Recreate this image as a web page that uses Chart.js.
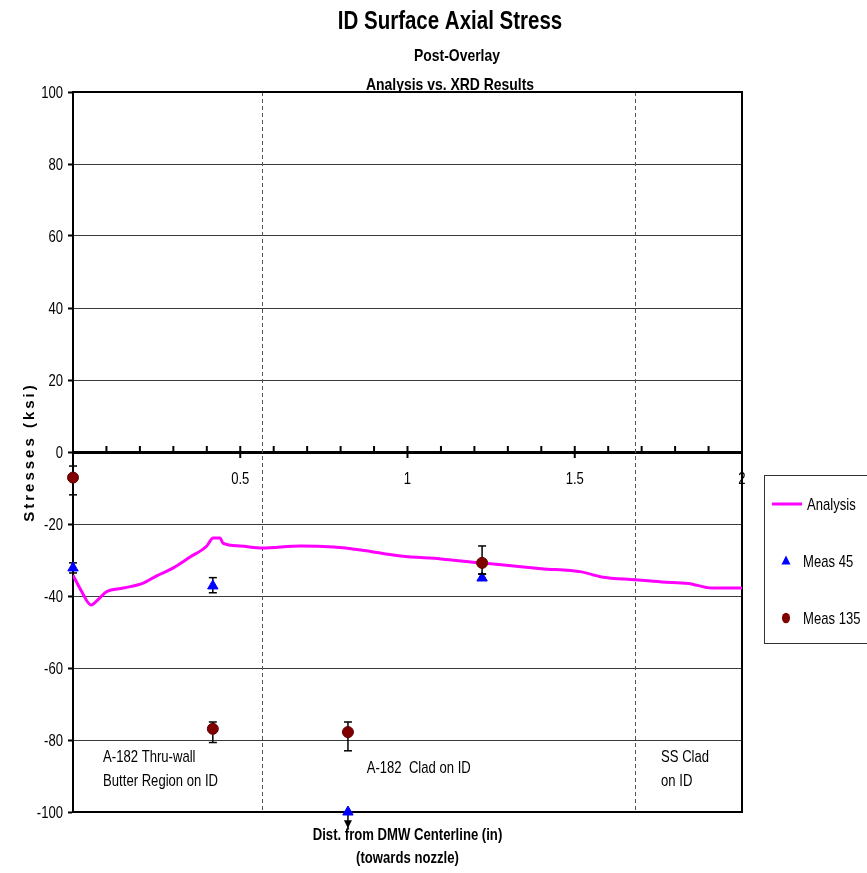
<!DOCTYPE html>
<html>
<head>
<meta charset="utf-8">
<script src="https://cdn.jsdelivr.net/npm/chart.js@4.4.1/dist/chart.umd.min.js"></script>
<style>
  html, body { margin: 0; padding: 0; background: #fff; }
  #wrap { width: 867px; height: 873px; position: relative; }
</style>
</head>
<body>
<div id="wrap"><canvas id="chart"></canvas></div>
<script>
// ---- values ----
const analysisX = [0, 0.025, 0.054, 0.075, 0.1, 0.15, 0.21, 0.25, 0.3, 0.35, 0.4, 0.419, 0.44, 0.448, 0.5, 0.565, 0.68, 0.78, 0.86, 0.98, 1.1, 1.22, 1.4, 1.52, 1.58, 1.68, 1.76, 1.84, 1.91, 2.0];
const analysisY = [-34.2, -38.6, -42.5, -41.0, -38.8, -37.8, -36.4, -34.4, -32.2, -29.2, -26.1, -23.9, -23.9, -25.3, -26.1, -26.7, -26.1, -26.4, -27.2, -28.9, -29.7, -30.8, -32.4, -33.3, -34.7, -35.5, -36.1, -36.5, -37.8, -37.8];

const meas45X = [0, 0.418, 0.822, 1.223];
const meas45Y = [-32.2, -37.2, -100, -35.0];
const meas45Up = [1.4, 2.3, 0, 1.1];
const meas45Down = [1.4, 1.9, 4.5, 0.5];

const meas135X = [0, 0.418, 0.822, 1.223];
const meas135Y = [-7.1, -76.9, -77.8, -30.8];
const meas135Up = [3.2, 1.9, 2.8, 4.7];
const meas135Down = [4.8, 3.8, 5.2, 3.1];

const xTickLabels = [0.5, 1, 1.5, 2];
const regionBounds = [0.564, 1.68];
const regionLabels = [['A-182 Thru-wall', 'Butter Region on ID'], ['A-182  Clad on ID'], ['SS Clad', 'on ID']];

const titleLines = ['ID Surface Axial Stress', 'Post-Overlay', 'Analysis vs. XRD Results'];
const xTitle = ['Dist. from DMW Centerline (in)', '(towards nozzle)'];
const yTitle = 'Stresses (ksi)';

// no narrow face installed, so squeeze Liberation Sans horizontally
const FONT = "'Liberation Sans', Arial, sans-serif";
Chart.defaults.font.family = FONT;

function toPts(xs, ys) { return xs.map((x, i) => ({ x: x, y: ys[i] })); }

function narrowText(ctx, text, x, y, align, squeeze) {
    ctx.save();
    ctx.translate(x, y);
    ctx.scale(squeeze || 0.77, 1);
    ctx.textAlign = align;
    ctx.fillText(text, 0, 0);
    ctx.restore();
}

function marker(ctx, style, cx, cy, r, fill) {
    ctx.fillStyle = fill;
    ctx.beginPath();
    if (style === 'triangle') {
        ctx.moveTo(cx, cy - r * 1.2);
        ctx.lineTo(cx + r, cy + r * 0.8);
        ctx.lineTo(cx - r, cy + r * 0.8);
        ctx.closePath();
    } else {
        ctx.ellipse(cx, cy, r * 0.9, r * 1.15, 0, 0, Math.PI * 2);
    }
    ctx.fill();
}

// where the region notes sit, in data units
const regionLabelPos = [{ x: 0.09, y: -84.7 }, { x: 0.878, y: -87.8 }, { x: 1.758, y: -84.7 }];

const decorPlugin = {
    id: 'decor',
    beforeDraw(chart) {
        const ctx = chart.ctx;
        ctx.save();
        ctx.fillStyle = '#fff';
        ctx.fillRect(0, 0, chart.width, chart.height);
        ctx.restore();
    },
    beforeDatasetsDraw(chart) {
        const { ctx, chartArea: a, scales: { x, y } } = chart;
        ctx.save();
        // region boundaries
        ctx.strokeStyle = '#555';
        ctx.lineWidth = 1;
        ctx.setLineDash([4, 3]);
        regionBounds.forEach(v => {
            const px = Math.round(x.getPixelForValue(v)) + 0.5;
            ctx.beginPath();
            ctx.moveTo(px, a.top);
            ctx.lineTo(px, a.bottom);
            ctx.stroke();
        });
        ctx.setLineDash([]);

        // frame top / right / bottom
        ctx.strokeStyle = '#000';
        ctx.lineWidth = 2;
        ctx.beginPath();
        ctx.moveTo(a.left, a.top);
        ctx.lineTo(a.right, a.top);
        ctx.lineTo(a.right, a.bottom);
        ctx.lineTo(a.left, a.bottom);
        ctx.stroke();

        // ticks on the zero axis (minor up, major across)
        const y0 = y.getPixelForValue(0);
        for (let i = 1; i <= 20; i++) {
            const px = x.getPixelForValue(i / 10);
            ctx.beginPath();
            ctx.moveTo(px, y0 - 6);
            ctx.lineTo(px, i % 5 === 0 ? y0 + 6 : y0);
            ctx.stroke();
        }

        ctx.fillStyle = '#000';
        ctx.font = '17px ' + FONT;
        ctx.textBaseline = 'middle';
        // tick labels
        xTickLabels.forEach(v => narrowText(ctx, String(v), x.getPixelForValue(v), y0 + 27, 'center'));
        y.ticks.forEach(t => narrowText(ctx, String(t.value), a.left - 10, y.getPixelForValue(t.value) + 1, 'right'));

        // region notes
        regionLabels.forEach((lines, i) => {
            const p = regionLabelPos[i];
            lines.forEach((t, j) => narrowText(ctx, t, x.getPixelForValue(p.x), y.getPixelForValue(p.y) + j * 24, 'left'));
        });
        ctx.restore();
    },
    beforeDatasetDraw(chart, args) {
        const ds = chart.data.datasets[args.index];
        if (!ds.errUp) return;
        const { ctx, scales: { x, y } } = chart;
        ctx.save();
        ctx.strokeStyle = '#000';
        ctx.fillStyle = '#000';
        ctx.lineWidth = 1.5;
        ds.data.forEach((p, i) => {
            const px = x.getPixelForValue(p.x);
            const lo = p.y - ds.errDown[i];
            const top = y.getPixelForValue(p.y + ds.errUp[i]);
            const bot = y.getPixelForValue(lo);
            ctx.beginPath();
            ctx.moveTo(px, top);
            ctx.lineTo(px, bot);
            ctx.stroke();
            if (ds.errUp[i] > 0) {
                ctx.beginPath(); ctx.moveTo(px - 4, top); ctx.lineTo(px + 4, top); ctx.stroke();
            }
            if (lo < y.min) {
                // off the scale: arrow head
                ctx.beginPath();
                ctx.moveTo(px - 4, bot - 8);
                ctx.lineTo(px + 4, bot - 8);
                ctx.lineTo(px, bot);
                ctx.closePath();
                ctx.fill();
            } else if (ds.errDown[i] > 0) {
                ctx.beginPath(); ctx.moveTo(px - 4, bot); ctx.lineTo(px + 4, bot); ctx.stroke();
            }
        });
        ctx.restore();
    },
    afterDraw(chart) {
        const { ctx, chartArea: a } = chart;
        ctx.save();
        ctx.fillStyle = '#000';
        ctx.textBaseline = 'middle';

        // titles
        const tx = 450;
        ctx.font = 'bold 25px ' + FONT;
        narrowText(ctx, titleLines[0], tx, 22, 'center', 0.82);
        ctx.font = 'bold 17px ' + FONT;
        narrowText(ctx, titleLines[1], tx + 7, 56, 'center', 0.82);
        narrowText(ctx, titleLines[2], tx, 85, 'center', 0.82);

        // x title
        const cx = (a.left + a.right) / 2;
        ctx.font = 'bold 16px ' + FONT;
        xTitle.forEach((t, i) => narrowText(ctx, t, cx, a.bottom + 24 + i * 23, 'center', 0.82));

        // y title
        ctx.save();
        ctx.translate(30, (a.top + a.bottom) / 2);
        ctx.rotate(-Math.PI / 2);
        ctx.font = 'bold 15px ' + FONT;
        ctx.textAlign = 'center';
        ctx.letterSpacing = '3px';
        ctx.fillText(yTitle, 0, 0);
        ctx.restore();

        // legend box
        const lx = a.right + 22, ly = 475;
        ctx.strokeStyle = '#333';
        ctx.lineWidth = 1;
        ctx.strokeRect(lx + 0.5, ly + 0.5, 130, 168);
        ctx.font = '17px ' + FONT;
        chart.data.datasets.forEach((ds, i) => {
            const ry = ly + 29 + i * 57;
            if (ds.showLine) {
                ctx.strokeStyle = ds.borderColor;
                ctx.lineWidth = 3;
                ctx.beginPath();
                ctx.moveTo(lx + 8, ry);
                ctx.lineTo(lx + 38, ry);
                ctx.stroke();
                ctx.fillStyle = '#000';
                narrowText(ctx, ds.label, lx + 43, ry + 1, 'left');
            } else {
                marker(ctx, ds.pointStyle, lx + 22, ry, 4.5, ds.backgroundColor);
                ctx.fillStyle = '#000';
                narrowText(ctx, ds.label, lx + 39, ry + 1, 'left');
            }
        });
        ctx.restore();
    }
};

new Chart(document.getElementById('chart'), {
    type: 'scatter',
    data: {
        datasets: [
            {
                label: 'Analysis',
                data: toPts(analysisX, analysisY),
                showLine: true,
                borderColor: '#ff00ff',
                backgroundColor: '#ff00ff',
                borderWidth: 3,
                pointRadius: 0,
                cubicInterpolationMode: 'monotone',
                order: 3
            },
            {
                label: 'Meas 45',
                data: toPts(meas45X, meas45Y),
                errUp: meas45Up,
                errDown: meas45Down,
                pointStyle: 'triangle',
                pointRadius: 6,
                backgroundColor: '#0000ff',
                borderColor: '#0000ff',
                borderWidth: 1,
                clip: false,
                order: 2
            },
            {
                label: 'Meas 135',
                data: toPts(meas135X, meas135Y),
                errUp: meas135Up,
                errDown: meas135Down,
                pointStyle: 'circle',
                pointRadius: 5.5,
                backgroundColor: '#800000',
                borderColor: '#600000',
                borderWidth: 1,
                clip: false,
                order: 1
            }
        ]
    },
    options: {
        responsive: true,
        maintainAspectRatio: false,
        animation: false,
        layout: { padding: { left: 0, top: 92, right: 125, bottom: 61 } },
        plugins: { legend: { display: false }, tooltip: { enabled: false } },
        scales: {
            x: {
                type: 'linear',
                position: { y: 0 },
                min: 0,
                max: 2,
                ticks: { stepSize: 0.5, callback: () => '' },
                grid: { drawOnChartArea: false, drawTicks: false },
                border: { display: true, color: '#000', width: 3 }
            },
            y: {
                min: -100,
                max: 100,
                ticks: { stepSize: 20, display: false },
                grid: {
                    color: c => (c.tick && (c.tick.value === 0 || Math.abs(c.tick.value) === 100)) ? 'rgba(0,0,0,0)' : '#3a3a3a',
                    lineWidth: 1,
                    tickColor: '#000',
                    tickWidth: 2,
                    tickLength: 5
                },
                border: { color: '#000', width: 2 },
                afterFit(s) { s.width = 73; }
            }
        }
    },
    plugins: [decorPlugin]
});
</script>
</body>
</html>
